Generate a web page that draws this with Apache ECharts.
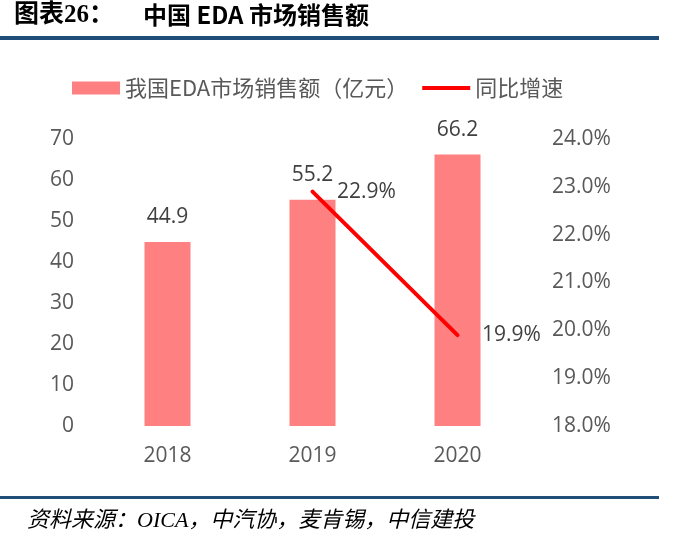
<!DOCTYPE html>
<html><head><meta charset="utf-8">
<script src="https://cdn.jsdelivr.net/npm/echarts@6/dist/echarts.min.js"></script>
<style>html,body{margin:0;padding:0;background:#fff}#c{width:675px;height:545px}</style>
</head><body><div id="c"></div>
<script>
const categories = ['2018', '2019', '2020'];
const salesValues = [44.9, 55.2, 66.2];
const growthValues = [null, 22.9, 19.9];
const leftTicks = [0, 10, 20, 30, 40, 50, 60, 70];
const rightTicks = ['18.0%', '19.0%', '20.0%', '21.0%', '22.0%', '23.0%', '24.0%'];

const chart = echarts.init(document.getElementById('c'));
const numFont = "'Open Sans','Noto Sans',sans-serif";
chart.setOption({
  animation: false,
  grid: { left: 95, right: 145, top: 139, bottom: 119 },
  legend: {
    top: 72, left: 67, itemGap: 14, itemWidth: 48, itemHeight: 13,
    textStyle: { fontSize: 22, color: '#595959', fontFamily: "'Noto Sans CJK SC',sans-serif", padding: [0,0,0,0] },
    data: [
      { name: '我国EDA市场销售额（亿元）', icon: 'rect' },
      { name: '同比增速', icon: 'path://M0,0 L48,0 L48,4 L0,4 Z', itemStyle: { color: '#FF0000' } }
    ]
  },
  xAxis: {
    type: 'category', data: categories,
    axisLine: { show: false }, axisTick: { show: false },
    axisLabel: { fontSize: 21, color: '#595959', fontFamily: numFont, margin: 20 }
  },
  yAxis: [
    { type: 'value', min: 0, max: 70, interval: 10,
      splitLine: { show: false }, axisLine: { show: false }, axisTick: { show: false },
      axisLabel: { fontSize: 21, color: '#595959', fontFamily: numFont, margin: 21,
        formatter: v => leftTicks.includes(v) ? String(v) : '' } },
    { type: 'value', min: 18, max: 24, interval: 1,
      splitLine: { show: false }, axisLine: { show: false }, axisTick: { show: false },
      axisLabel: { fontSize: 21, color: '#595959', fontFamily: numFont, margin: 22, align: 'left',
        formatter: v => rightTicks[Math.round(v - 18)] } }
  ],
  series: [
    { name: '我国EDA市场销售额（亿元）', type: 'bar', data: salesValues, barWidth: 46,
      itemStyle: { color: '#FF8080' },
      label: { show: true, position: 'top', distance: 14, fontSize: 21, color: '#404040', fontFamily: numFont, formatter: p => p.value.toFixed(1) } },
    { name: '同比增速', type: 'line', yAxisIndex: 1, data: growthValues,
      symbol: 'circle', symbolSize: 1, showSymbol: true,
      lineStyle: { color: '#FF0000', width: 4, cap: 'round' }, itemStyle: { color: '#FF0000' },
      labelLayout: { hideOverlap: false },
      label: { show: true, position: 'right', distance: 24, fontSize: 21, color: '#404040', fontFamily: numFont,
        formatter: p => p.value == null ? '' : p.value.toFixed(1) + '%' } }
  ],
  graphic: [
    { type: 'text', left: 14, top: 3, style: { text: '图表26：', font: "bold 25px 'Liberation Serif','Noto Sans CJK SC',serif", fill: '#000' } },
    { type: 'text', left: 143, top: 3, style: { text: '中国 EDA 市场销售额', font: "bold 24px 'Noto Sans CJK SC',serif", fill: '#000' } },
    { type: 'rect', shape: { x: 0, y: 36, width: 659, height: 4 }, style: { fill: '#1F4E79' } },
    { type: 'rect', shape: { x: 0, y: 496, width: 659, height: 3 }, style: { fill: '#1F4E79' } },
    { type: 'text', left: 27, top: 510, style: { text: '资料来源：OICA，中汽协，麦肯锡，中信建投', font: "italic 22px 'Liberation Serif','Noto Sans CJK SC',serif", fill: '#000' } }
  ]
});
</script></body></html>
